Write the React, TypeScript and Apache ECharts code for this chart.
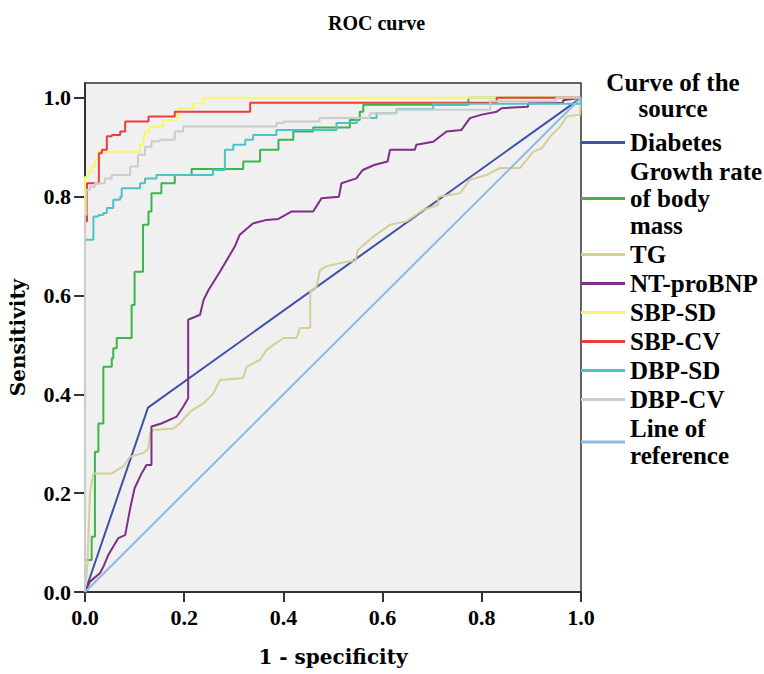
import React, { useEffect, useRef } from "react";
import * as echarts from "echarts";

// ROC points [1 - specificity, sensitivity]
const diabetes: number[][] = [[0, 0], [0.127, 0.373], [1, 1]];

// step curves: each point = x at which sensitivity jumps to y
const growthRate: number[][] = [
  [0, 0], [0, 0.065], [0.0135, 0.112], [0.02, 0.284], [0.027, 0.341], [0.037, 0.456],
  [0.054, 0.473], [0.057, 0.493], [0.064, 0.514], [0.094, 0.581], [0.1, 0.648],
  [0.117, 0.743], [0.128, 0.77], [0.134, 0.807], [0.154, 0.827], [0.181, 0.844],
  [0.215, 0.856], [0.319, 0.871], [0.353, 0.895], [0.39, 0.915], [0.42, 0.932],
  [0.46, 0.94], [0.534, 0.955], [0.554, 0.972], [0.561, 0.986], [0.773, 1], [1, 1],
];

const tg: number[][] = [
  [0, 0], [0.005, 0.058], [0.01, 0.2], [0.017, 0.24], [0.054, 0.24], [0.077, 0.254],
  [0.091, 0.274], [0.117, 0.281], [0.128, 0.291], [0.131, 0.321], [0.138, 0.328],
  [0.178, 0.331], [0.191, 0.341], [0.212, 0.365], [0.239, 0.382], [0.259, 0.402],
  [0.272, 0.429], [0.319, 0.433], [0.326, 0.456], [0.353, 0.47], [0.366, 0.49],
  [0.4, 0.514], [0.427, 0.514], [0.433, 0.534], [0.454, 0.534], [0.454, 0.608],
  [0.467, 0.618], [0.474, 0.652], [0.487, 0.659], [0.53, 0.669], [0.545, 0.67],
  [0.55, 0.692], [0.581, 0.719], [0.615, 0.743], [0.648, 0.75], [0.682, 0.773],
  [0.712, 0.783], [0.712, 0.8], [0.756, 0.807], [0.776, 0.834], [0.81, 0.844],
  [0.837, 0.858], [0.877, 0.858], [0.904, 0.891], [0.921, 0.898], [0.938, 0.922],
  [0.958, 0.942], [0.971, 0.962], [0.998, 0.966], [1, 1],
];

const ntProBNP: number[][] = [
  [0, 0], [0.01, 0.021], [0.03, 0.038], [0.037, 0.051], [0.047, 0.075], [0.057, 0.092],
  [0.067, 0.109], [0.081, 0.115], [0.091, 0.169], [0.1, 0.21], [0.114, 0.24],
  [0.124, 0.257], [0.134, 0.257], [0.134, 0.335], [0.154, 0.341], [0.185, 0.355],
  [0.198, 0.375], [0.208, 0.392], [0.208, 0.551], [0.232, 0.561], [0.239, 0.591],
  [0.249, 0.611], [0.262, 0.632], [0.272, 0.648], [0.302, 0.699], [0.312, 0.723],
  [0.339, 0.746], [0.366, 0.753], [0.39, 0.755], [0.417, 0.77], [0.46, 0.77],
  [0.477, 0.797], [0.512, 0.8], [0.517, 0.827], [0.547, 0.837], [0.56, 0.854],
  [0.583, 0.864], [0.61, 0.871], [0.615, 0.895], [0.665, 0.895], [0.668, 0.905],
  [0.702, 0.911], [0.729, 0.932], [0.759, 0.935], [0.776, 0.959], [0.8, 0.966],
  [0.83, 0.972], [0.84, 0.979], [0.893, 0.982], [0.893, 0.989], [0.964, 0.99],
  [0.964, 0.995], [1, 1],
];

const sbpSd: number[][] = [
  [0, 0], [0, 0.84], [0.007, 0.85], [0.0135, 0.861], [0.02, 0.875], [0.027, 0.891],
  [0.111, 0.905], [0.118, 0.922], [0.121, 0.932], [0.131, 0.942], [0.158, 0.955],
  [0.185, 0.966], [0.19, 0.979], [0.218, 0.989], [0.239, 1], [1, 1],
];

const sbpCv: number[][] = [
  [0, 0], [0, 0.75], [0.004, 0.827], [0.028, 0.888], [0.034, 0.895], [0.044, 0.922],
  [0.054, 0.925], [0.071, 0.932], [0.081, 0.952], [0.128, 0.962], [0.181, 0.972],
  [0.333, 0.99], [0.83, 1], [1, 1],
];

const dbpSd: number[][] = [
  [0, 0], [0, 0.713], [0.017, 0.76], [0.027, 0.763], [0.037, 0.767], [0.044, 0.777],
  [0.057, 0.794], [0.071, 0.8], [0.074, 0.817], [0.111, 0.827], [0.121, 0.837],
  [0.144, 0.844], [0.258, 0.854], [0.282, 0.895], [0.299, 0.905], [0.323, 0.915],
  [0.339, 0.925], [0.386, 0.935], [0.507, 0.949], [0.548, 0.959], [0.588, 0.969],
  [0.628, 0.977], [0.702, 0.988], [1, 1],
];

const dbpCv: number[][] = [
  [0, 0], [0, 0.763], [0.003, 0.814], [0.01, 0.82], [0.02, 0.827], [0.04, 0.837],
  [0.054, 0.844], [0.091, 0.861], [0.107, 0.885], [0.121, 0.901], [0.134, 0.912],
  [0.151, 0.915], [0.181, 0.932], [0.198, 0.942], [0.386, 0.949], [0.4, 0.952],
  [0.473, 0.959], [0.574, 0.969], [0.628, 0.976], [0.817, 0.993], [0.95, 1], [1, 1],
];

const reference: number[][] = [[0, 0], [1, 1]];

const tickValues = [0, 0.2, 0.4, 0.6, 0.8, 1.0];

const seriesNames = [
  "Diabetes", "Growth rate of body mass", "TG", "NT-proBNP", "SBP-SD",
  "SBP-CV", "DBP-SD", "DBP-CV", "Line of reference",
];
const legendLabels: Record<string, string> = {
  "Growth rate of body mass": "Growth rate\nof body\nmass",
  "Line of reference": "Line of\nreference",
};

const seriesData = [diabetes, growthRate, tg, ntProBNP, sbpSd, sbpCv, dbpSd, dbpCv, reference];
const seriesStep: (false | "end")[] = [false, "end", false, false, "end", "end", "end", "end", false];
const seriesColors = [
  "#3f51a8", "#3cb54a", "#d4cf98", "#7e2f87", "#f7f56a",
  "#ef3a3f", "#4bc4c8", "#cccccc", "#8db8e0",
];

const SERIF = "'Liberation Serif', 'Times New Roman', serif";
const SERIF2 = "'DejaVu Serif', serif";

export default function App() {
  const ref = useRef<HTMLDivElement>(null);
  useEffect(() => {
    document.body.style.margin = "0";
    const chart = echarts.init(ref.current!, null, { renderer: "svg" });
    chart.setOption({
      animation: false,
      title: [
        {
          text: "ROC curve",
          left: 328,
          top: 13,
          padding: 0,
          textStyle: { fontFamily: SERIF, fontWeight: "bold", fontSize: 20, color: "#000" },
        },
        {
          text: "Curve of the\nsource",
          left: 673,
          top: 69,
          padding: 0,
          textAlign: "center",
          textStyle: {
            fontFamily: SERIF, fontWeight: "bold", fontSize: 25, lineHeight: 26, color: "#000",
          },
        },
      ],
      legend: {
        orient: "vertical",
        left: 581,
        top: 129,
        padding: 0,
        itemGap: 2,
        itemWidth: 44,
        itemHeight: 3,
        icon: "rect",
        selectedMode: false,
        data: seriesNames,
        formatter: (name: string) => legendLabels[name] || name,
        textStyle: {
          fontFamily: SERIF, fontWeight: "bold", fontSize: 25, lineHeight: 27, color: "#000",
        },
      },
      grid: {
        left: 85,
        right: 183,
        top: 83,
        bottom: 82,
        outerBoundsMode: "none",
        containLabel: false,
        show: true,
        backgroundColor: "#f0f0f0",
        borderColor: "#333",
        borderWidth: 1.5,
      },
      xAxis: {
        type: "value",
        min: 0,
        max: 1,
        interval: 0.2,
        name: "1 - specificity",
        nameLocation: "middle",
        nameGap: 55,
        nameTextStyle: { fontFamily: SERIF2, fontWeight: "bold", fontSize: 20, color: "#000" },
        axisLine: { lineStyle: { color: "#333", width: 2 } },
        axisTick: { show: true, length: 10, lineStyle: { color: "#333", width: 2 } },
        axisLabel: {
          margin: 14,
          fontFamily: SERIF, fontWeight: "bold", fontSize: 22, color: "#000",
          formatter: (v: number) => v.toFixed(1),
        },
        splitLine: { show: false },
      },
      yAxis: {
        type: "value",
        min: 0,
        max: 1.03,
        name: "Sensitivity",
        nameLocation: "middle",
        nameGap: 57,
        nameTextStyle: { fontFamily: SERIF2, fontWeight: "bold", fontSize: 20, color: "#000" },
        axisLine: { show: true, lineStyle: { color: "#333", width: 2 } },
        axisTick: { show: true, length: 11, customValues: tickValues, lineStyle: { color: "#333", width: 2 } },
        axisLabel: {
          margin: 14,
          customValues: tickValues,
          fontFamily: SERIF, fontWeight: "bold", fontSize: 22, color: "#000",
          formatter: (v: number) => v.toFixed(1),
        },
        splitLine: { show: false },
      },
      series: seriesNames.map((name, i) => ({
        name,
        type: "line",
        data: seriesData[i],
        step: seriesStep[i],
        showSymbol: false,
        symbol: "none",
        color: seriesColors[i],
        lineStyle: { color: seriesColors[i], width: 2 },
        z: 2,
      })),
    });
    return () => chart.dispose();
  }, []);
  return (
    <div
      ref={ref}
      style={{ position: "absolute", left: 0, top: 0, width: 764, height: 674 }}
    />
  );
}
